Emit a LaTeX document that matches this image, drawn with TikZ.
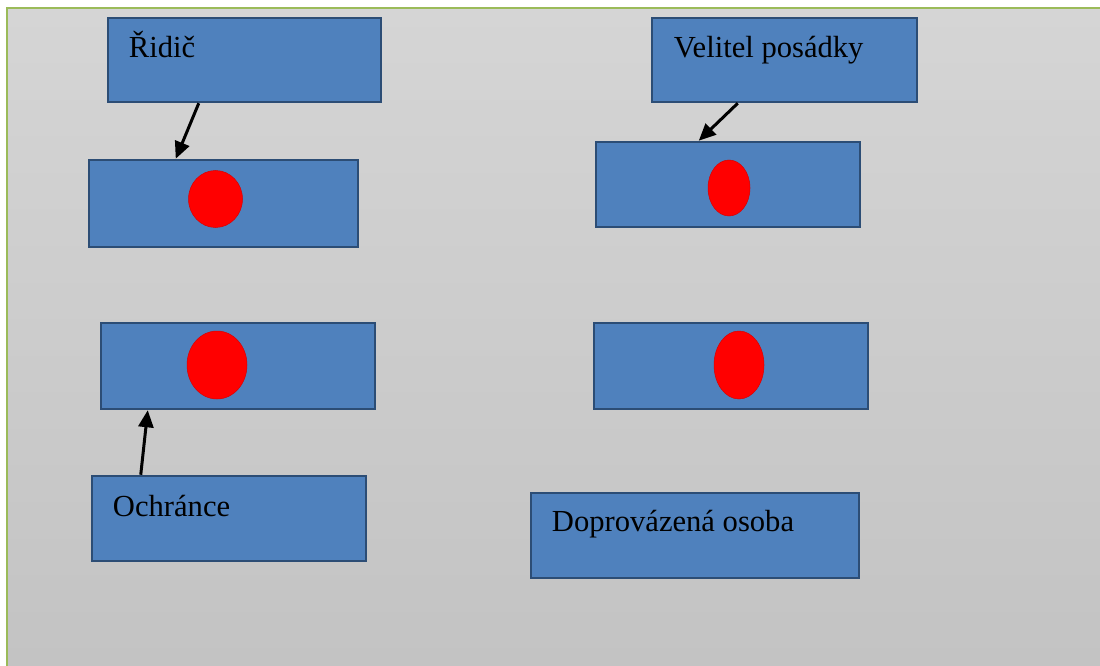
\documentclass[tikz,border=0pt]{standalone}
\usepackage{fontspec}
\setmainfont{Liberation Serif}
\usetikzlibrary{arrows.meta,shapes.geometric}

\definecolor{boxblue}{HTML}{4F81BD}
\definecolor{boxedge}{HTML}{2C4D75}
\definecolor{bgtop}{HTML}{D5D5D5}
\definecolor{bgbot}{HTML}{C3C3C3}
\definecolor{frameline}{HTML}{9BBB59}

\begin{document}
\begin{tikzpicture}[x=1pt, y=-1pt,
        box/.style={shape=rectangle, draw=boxedge, fill=boxblue, line width=2.5pt, inner sep=0pt},
        seat/.style={shape=ellipse, fill=red, draw=red!85!black, line width=0.5pt, inner sep=0pt},
        lbl/.style={anchor=base west, inner sep=0pt, font=\fontsize{30.6}{36}\selectfont},
        arr/.style={line width=3pt, -{Triangle[length=17pt, width=15pt]}}]
        \useasboundingbox (0, 0) rectangle (1100, 666);
        \fill[white] (0, 0) rectangle (1100, 666);
        \shade[top color=bgtop, bottom color=bgbot] (7, 8) rectangle (1100, 666);
        \draw[frameline, line width=1.5pt] (7, 666) |- (1100, 8);

        % persons
        \node[box, minimum width=273pt, minimum height=84pt] (ridic) at (244.5, 60) {};
        \node[box, minimum width=265pt, minimum height=84pt] (velitel) at (784.5, 60) {};
        \node[box, minimum width=274pt, minimum height=85pt] (ochrance) at (229, 518.5) {};
        \node[box, minimum width=328pt, minimum height=85pt] (osoba) at (695, 535.5) {};

        \node[lbl] at ([shift={(22, 41)}]ridic.north west) {Řidič};
        \node[lbl] at ([shift={(23, 41)}]velitel.north west) {Velitel posádky};
        \node[lbl] at ([shift={(22, 42)}]ochrance.north west) {Ochránce};
        \node[lbl] at ([shift={(22, 40)}]osoba.north west) {Doprovázená osoba};

        % seats
        \node[box, minimum width=269pt, minimum height=87pt] (carA) at (223.5, 203.5) {};
        \node[box, minimum width=264pt, minimum height=85pt] (carB) at (728, 184.5) {};
        \node[box, minimum width=274pt, minimum height=86pt] (carC) at (238, 366) {};
        \node[box, minimum width=274pt, minimum height=86pt] (carD) at (731, 366) {};

        \node[seat, minimum width=54pt, minimum height=57pt] (seatA) at (215.5, 199) {};
        \node[seat, minimum width=42pt, minimum height=56pt] (seatB) at (729, 188) {};
        \node[seat, minimum width=60pt, minimum height=68pt] (seatC) at (217, 365) {};
        \node[seat, minimum width=50pt, minimum height=68pt] (seatD) at (739, 365) {};

        \draw[arr] ([xshift=92pt]ridic.south west) -- ([xshift=88pt]carA.north west);
        \draw[arr] ([xshift=87pt]velitel.south west) -- ([xshift=104pt]carB.north west);
        \draw[arr] ([xshift=50pt]ochrance.north west) -- ([xshift=48pt]carC.south west);

    \end{tikzpicture}
\end{document}
